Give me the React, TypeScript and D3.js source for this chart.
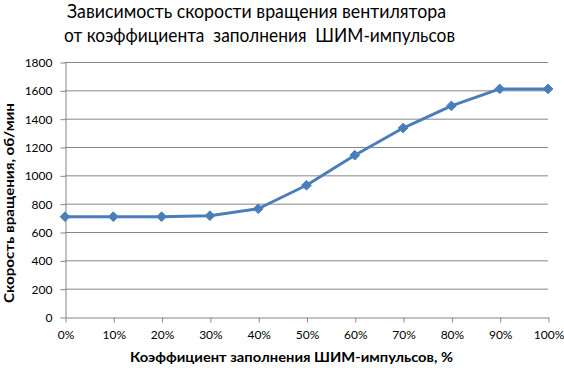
import React, { useEffect, useRef } from 'react';
import * as d3 from 'd3';

const duty = [0, 10, 20, 30, 40, 50, 60, 70, 80, 90, 100];
const speed = [708, 708, 708, 715, 764, 930, 1142, 1334, 1490, 1610, 1610];
const yTicks = [0, 200, 400, 600, 800, 1000, 1200, 1400, 1600, 1800];
const titleLines = ['Зависимость скорости вращения вентилятора', 'от коэффициента  заполнения  ШИМ-импульсов'];
const xTitle = 'Коэффициент заполнения ШИМ-импульсов, %';
const yTitle = 'Скорость вращения, об/мин';

const App = () => {
  const svgRef = useRef(null);

  useEffect(() => {
    const svg = d3.select(svgRef.current);
    svg.selectAll('*').remove();
    const font = 'Lato, "Open Sans", sans-serif';
    const grey = '#868686';
    const blue = '#4a7ebb';

    const x = d3.scaleLinear().domain([0, 100]).range([65, 548]);
    const y = d3.scaleLinear().domain([0, 1800]).range([317, 62]);

    // title
    const tl = [
      { x1: 67, x2: 446, y: 18 },
      { x1: 64, x2: 455, y: 42 }
    ];
    titleLines.forEach((t, i) => {
      svg.append('text')
        .attr('x', tl[i].x1)
        .attr('y', tl[i].y)
        .attr('textLength', tl[i].x2 - tl[i].x1)
        .attr('lengthAdjust', 'spacingAndGlyphs')
        .style('white-space', 'pre')
        .style('font-family', font)
        .style('font-size', '19px')
        .style('fill', '#000')
        .text(t);
    });

    // gridlines
    svg.append('g')
      .selectAll('line')
      .data(yTicks.filter(d => d > 0))
      .join('line')
      .attr('x1', x(0))
      .attr('x2', x(100))
      .attr('y1', d => y(d) + 0.5)
      .attr('y2', d => y(d) + 0.5)
      .attr('stroke', grey)
      .attr('stroke-width', 1);

    const yAxis = d3.axisLeft(y).tickValues(yTicks).tickSize(5).tickSizeOuter(0).tickPadding(8)
      .tickFormat(d3.format('d'));
    const gy = svg.append('g')
      .attr('transform', `translate(${x(0) + 0.5},0.5)`)
      .call(yAxis);
    gy.select('.domain').attr('stroke', grey);
    gy.selectAll('line').attr('stroke', grey);
    gy.selectAll('text')
      .style('font-family', font)
      .style('font-size', '12px')
      .attr('fill', '#000');

    const xAxis = d3.axisBottom(x).tickValues(duty).tickSize(5).tickSizeOuter(0).tickPadding(8)
      .tickFormat(d => `${d}%`);
    const gx = svg.append('g')
      .attr('transform', `translate(0.5,${y(0) + 0.5})`)
      .call(xAxis);
    gx.select('.domain').attr('stroke', grey);
    gx.selectAll('line').attr('stroke', grey);
    gx.selectAll('text')
      .style('font-family', font)
      .style('font-size', '12px')
      .attr('fill', '#000');

    // axis titles
    svg.append('text')
      .attr('x', 130)
      .attr('y', 362)
      .attr('textLength', 323)
      .attr('lengthAdjust', 'spacingAndGlyphs')
      .style('font-family', font)
      .style('font-size', '14px')
      .style('font-weight', 'bold')
      .text(xTitle);

    svg.append('text')
      .attr('transform', 'translate(14,303) rotate(-90)')
      .attr('textLength', 200)
      .attr('lengthAdjust', 'spacingAndGlyphs')
      .style('font-family', font)
      .style('font-size', '14px')
      .style('font-weight', 'bold')
      .text(yTitle);

    // line
    const line = d3.line<number>()
      .x((d, i) => x(duty[i]))
      .y(d => y(d));

    svg.append('path')
      .datum(speed)
      .attr('d', line)
      .attr('fill', 'none')
      .attr('stroke', blue)
      .attr('stroke-width', 3)
      .attr('stroke-linejoin', 'round');

    svg.append('g')
      .selectAll('path')
      .data(speed)
      .join('path')
      .attr('d', d3.symbol(d3.symbolDiamond2, 60))
      .attr('transform', (d, i) => `translate(${x(duty[i])},${y(d)})`)
      .attr('fill', blue)
      .attr('stroke', blue);
  }, []);

  return (
    <svg
      ref={svgRef}
      width={564}
      height={368}
      style={{ position: 'absolute', left: 0, top: 0, background: '#fff' }}
    />
  );
};

export default App;
